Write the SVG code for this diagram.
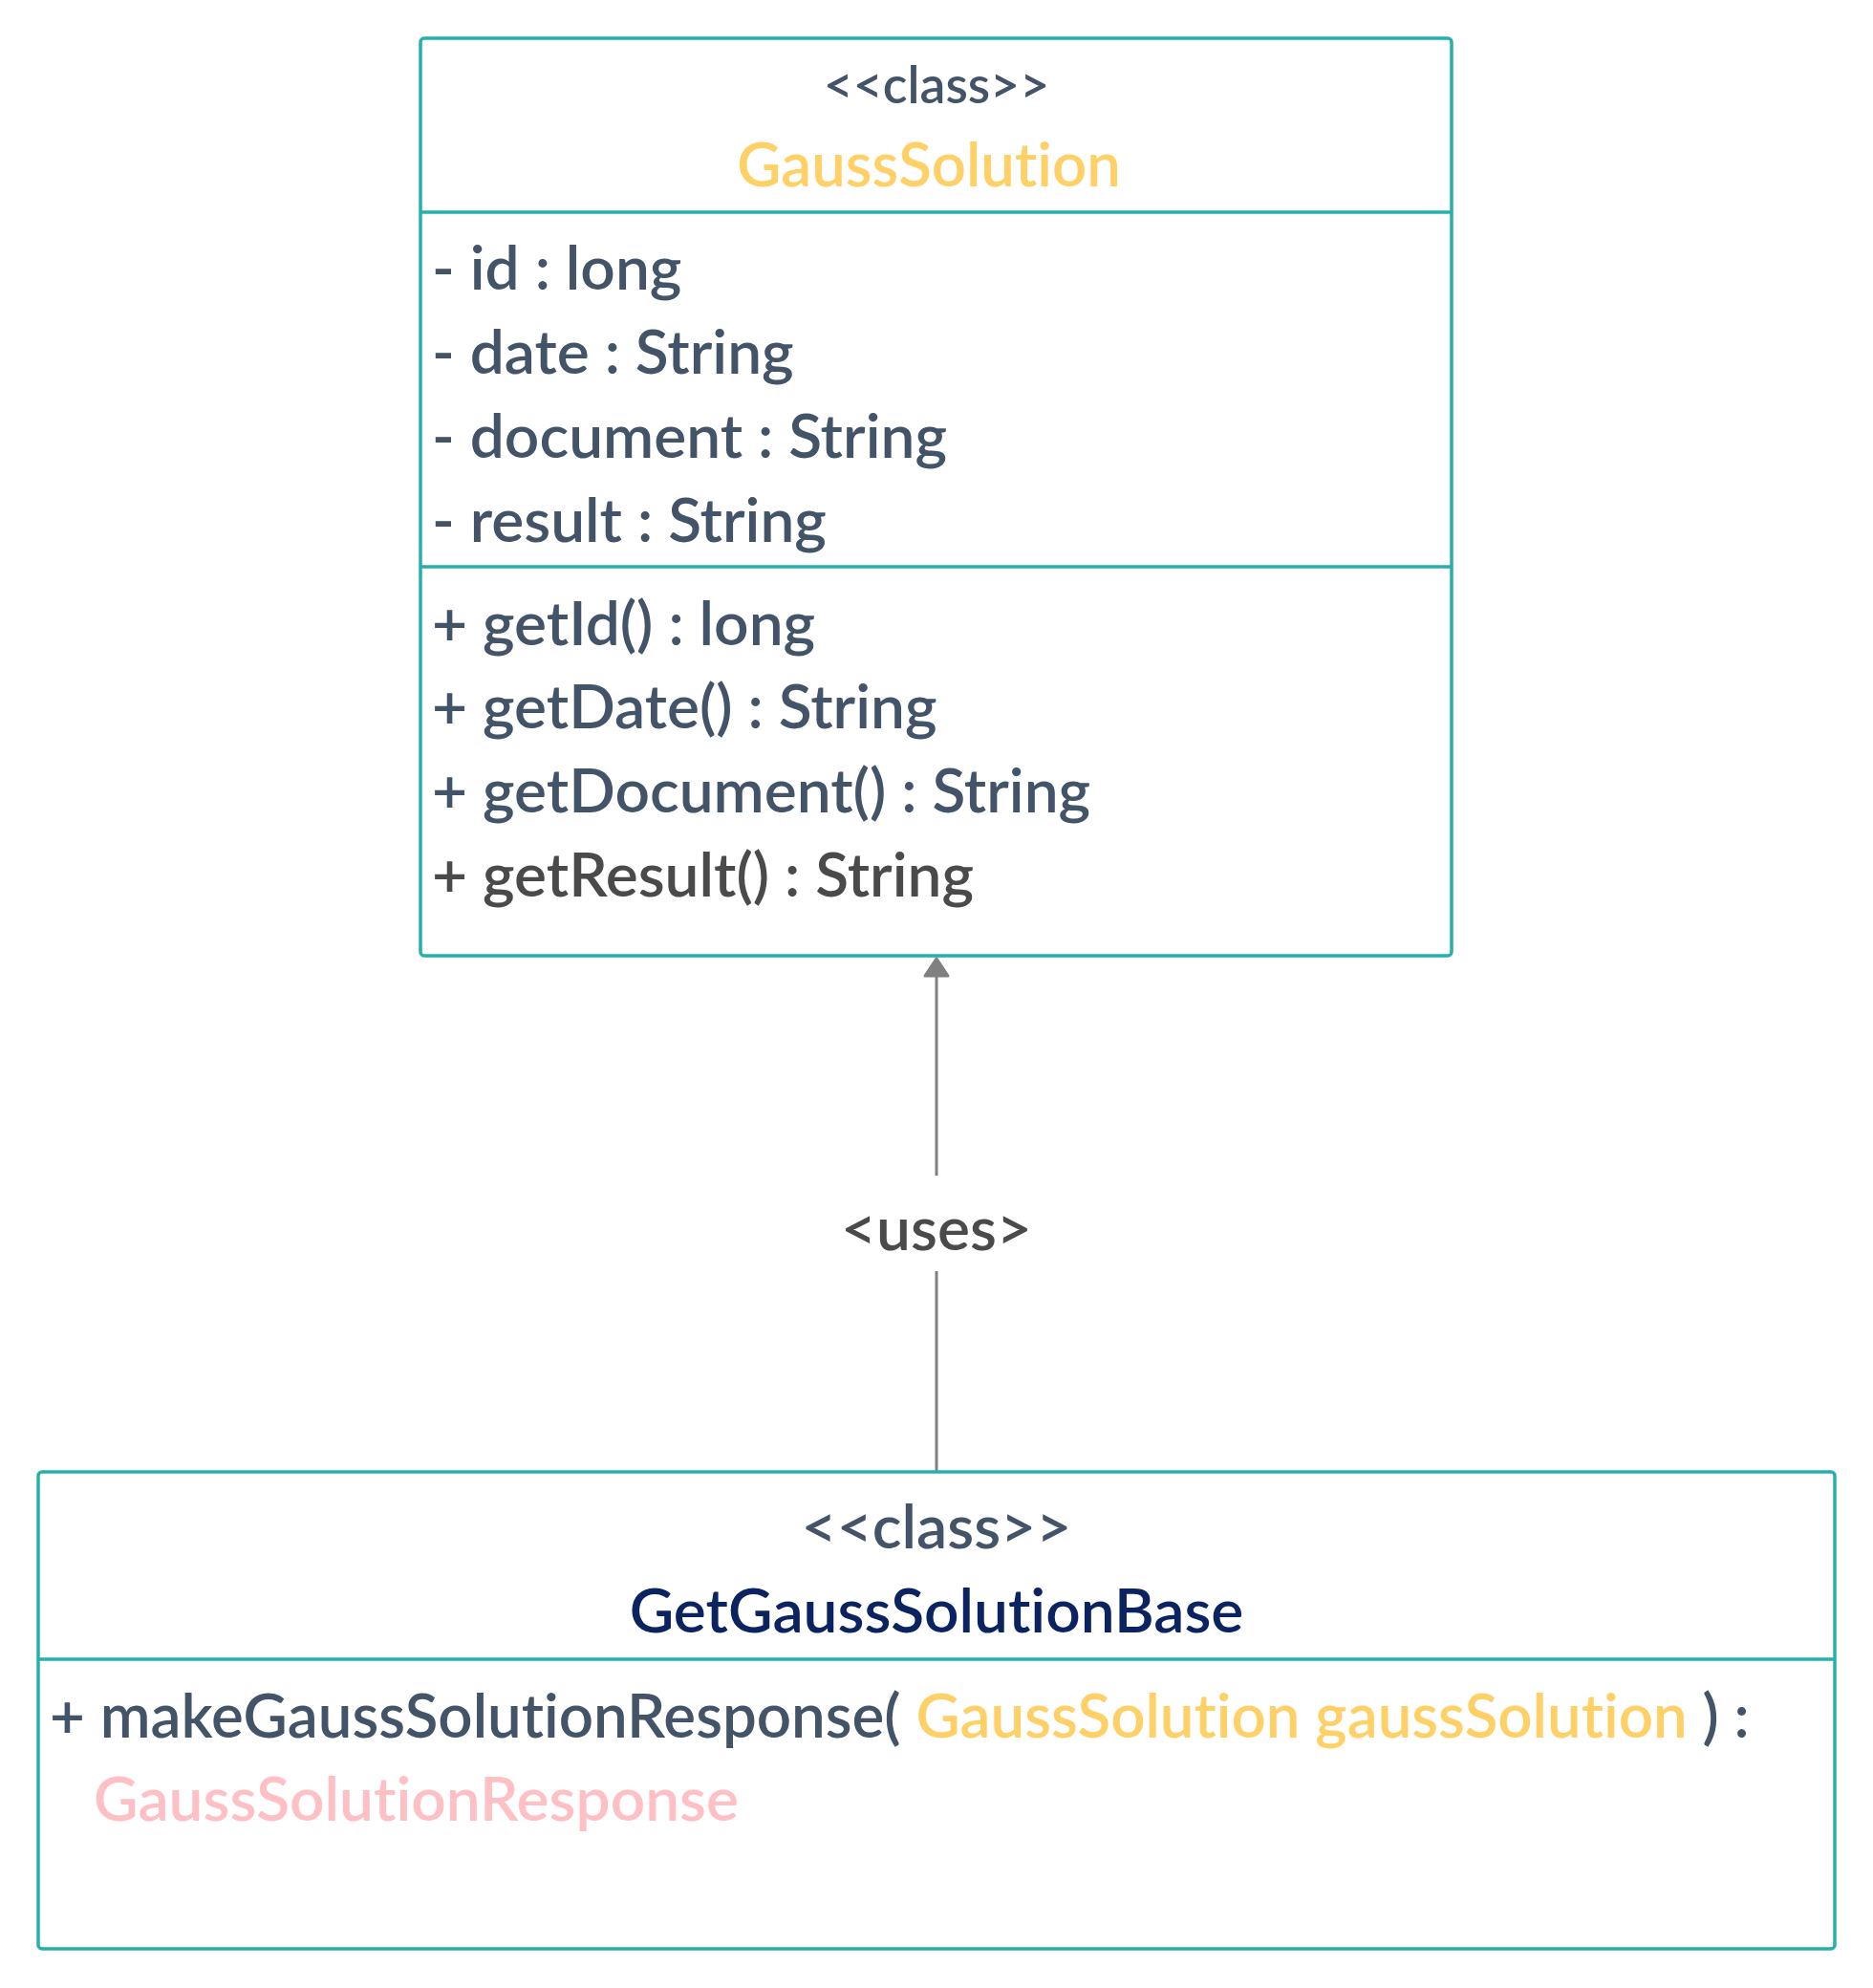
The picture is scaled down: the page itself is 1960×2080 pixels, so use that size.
<svg xmlns="http://www.w3.org/2000/svg" width="1960" height="2080" viewBox="0 0 1960 2080">
<defs>
<style>
.box{fill:#ffffff;stroke:#27b0ab;stroke-width:3.5}
.div{stroke:#27b0ab;stroke-width:3.5}
text{font-family:Lato,"Open Sans","Liberation Sans",sans-serif;font-variant-ligatures:none;font-weight:600}
.st{fill:#435469;text-anchor:middle}
.mem{fill:#435469;font-size:64px}
.dark{fill:#4a4a4a}
.yel{fill:#fed066}
.pink{fill:#ffc0c5}
.navy{fill:#0b2360}
.conn{stroke:#808080;stroke-width:3;fill:none}
</style>
<marker id="arrow" markerUnits="userSpaceOnUse" viewBox="0 -15 22 30" refX="20" refY="0" markerWidth="22" markerHeight="30" orient="auto">
<path d="M2,-12 L20,0 L2,12 Z" fill="#808080" stroke="#808080" stroke-width="3" stroke-linejoin="round"/>
</marker>
</defs>
<rect width="1960" height="2080" fill="#ffffff"/>
<g id="connectors">
<path class="conn" d="M980,1540 V1330 M980,1230 V1003" marker-end="url(#arrow)"/>
<text x="980" y="1308" text-anchor="middle" font-size="64" class="dark">&lt;uses&gt;</text>
</g>
<g id="GaussSolution">
<rect class="box" x="440" y="40" width="1079" height="960" rx="4"/>
<line class="div" x1="440" y1="222" x2="1519" y2="222"/>
<line class="div" x1="440" y1="593" x2="1519" y2="593"/>
<text class="st" x="980" y="108" font-size="53.5">&lt;&lt;class&gt;&gt;</text>
<text class="yel" x="972" y="195" text-anchor="middle" font-size="63.5">GaussSolution</text>
<text class="mem" x="452" y="303">- id : long</text>
<text class="mem" x="452" y="391">- date : String</text>
<text class="mem" x="452" y="479">- document : String</text>
<text class="mem" x="452" y="567">- result : String</text>
<text class="mem" x="452" y="675">+ getId() : long</text>
<text class="mem" x="452" y="762">+ getDate() : String</text>
<text class="mem" x="452" y="850">+ getDocument() : String</text>
<text class="mem dark" x="452" y="938">+ getResult() : String</text>
</g>
<g id="GetGaussSolutionBase">
<rect class="box" x="40" y="1540" width="1880" height="499" rx="4"/>
<line class="div" x1="40" y1="1736" x2="1920" y2="1736"/>
<text class="st" x="980" y="1620" font-size="64">&lt;&lt;class&gt;&gt;</text>
<text class="navy" x="980" y="1708" text-anchor="middle" font-size="64">GetGaussSolutionBase</text>
<text class="mem" x="52" y="1818" style="font-size:63.6px">+ makeGaussSolutionResponse(<tspan class="yel"> GaussSolution gaussSolution </tspan>) :</text>
<text class="mem pink" x="98" y="1905">GaussSolutionResponse</text>
</g>
</svg>
